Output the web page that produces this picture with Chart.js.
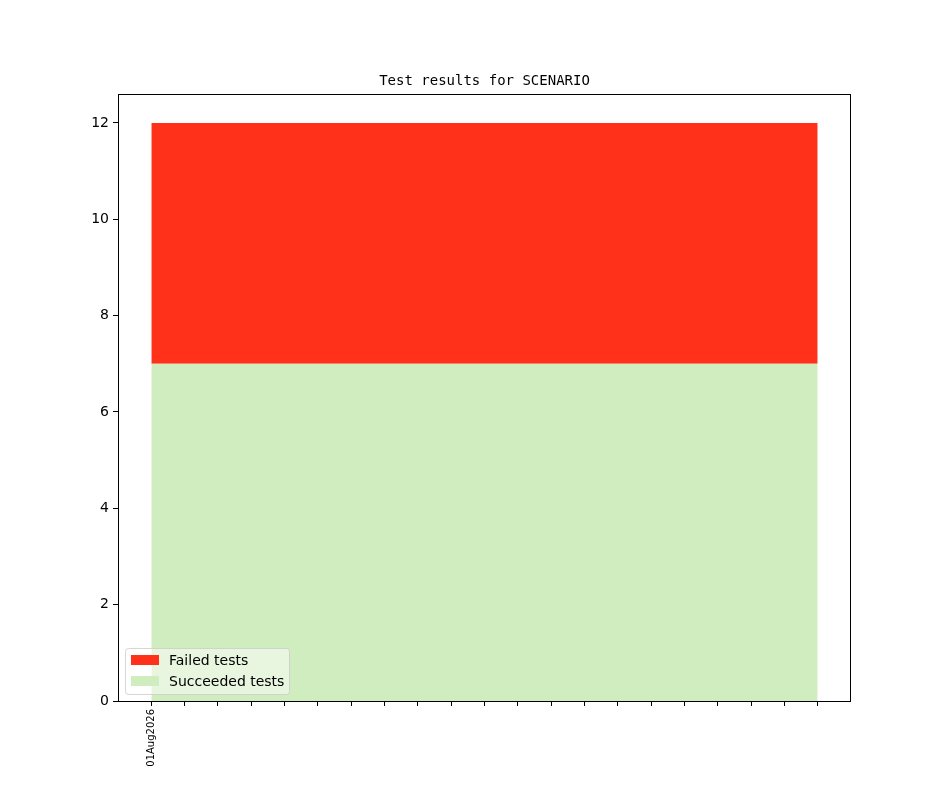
<!DOCTYPE html>
<html lang="en">
<head>
  <meta charset="UTF-8" />
  <title>Test results for SCENARIO</title>
  <script src="https://cdn.jsdelivr.net/npm/chart.js"></script>
  <style>
    body { margin: 0; background: #fff; }
    #wrap { width: 944px; height: 787px; }
  </style>
</head>
<body>
  <div id="wrap"><canvas id="chart"></canvas></div>

  <script>
    // x positions (one per run), only the first one carries a date label
    const runs = [0, 1, 2, 3, 4, 5, 6, 7, 8, 9, 10, 11, 12, 13, 14, 15, 16, 17, 18, 19, 20];
    const tickLabels = { 0: '01Aug2026' };
    const succeeded = [7, 7, 7, 7, 7, 7, 7, 7, 7, 7, 7, 7, 7, 7, 7, 7, 7, 7, 7, 7, 7];
    const failed = [5, 5, 5, 5, 5, 5, 5, 5, 5, 5, 5, 5, 5, 5, 5, 5, 5, 5, 5, 5, 5];
    const yTicks = [0, 2, 4, 6, 8, 10, 12];

    const RED = '#ff311a';
    const GREEN = '#d0edbf';
    const SANS = "'DejaVu Sans', sans-serif";

    // frame, title and in-plot legend like matplotlib
    const decor = {
      id: 'decor',
      afterDraw(chart) {
        const { ctx, chartArea: a } = chart;
        ctx.save();
        ctx.strokeStyle = '#000';
        ctx.lineWidth = 1;
        ctx.strokeRect(a.left + 0.5, a.top + 0.5, a.right - a.left - 1, a.bottom - a.top);

        ctx.fillStyle = '#000';
        ctx.font = "14px 'DejaVu Sans Mono', monospace";
        ctx.textAlign = 'center';
        ctx.textBaseline = 'alphabetic';
        ctx.fillText('Test results for SCENARIO', (a.left + a.right) / 2, a.top - 9);

        // legend box
        const x = a.left + 7, y = a.bottom - 53, w = 164, h = 46;
        ctx.fillStyle = 'rgba(255,255,255,0.5)';
        ctx.strokeStyle = 'rgba(204,204,204,0.8)';
        ctx.beginPath();
        ctx.roundRect(x + 0.5, y + 0.5, w, h, 3);
        ctx.fill();
        ctx.stroke();

        const items = [['Failed tests', RED], ['Succeeded tests', GREEN]];
        ctx.font = '14px ' + SANS;
        ctx.textAlign = 'left';
        items.forEach(([label, col], i) => {
          const cy = y + 12 + i * 21;
          ctx.fillStyle = col;
          ctx.fillRect(x + 6, cy - 5, 28, 10);
          ctx.fillStyle = '#000';
          ctx.textBaseline = 'middle';
          ctx.fillText(label, x + 44, cy + 1);
        });
        ctx.restore();
      }
    };

    new Chart(document.getElementById('chart'), {
      type: 'line',
      data: {
        labels: runs,
        datasets: [
          {
            label: 'Succeeded tests',
            data: runs.map((r, i) => ({ x: r, y: succeeded[i] })),
            backgroundColor: GREEN,
            borderWidth: 0,
            pointRadius: 0,
            fill: 'origin',
            tension: 0
          },
          {
            label: 'Failed tests',
            data: runs.map((r, i) => ({ x: r, y: failed[i] })),
            backgroundColor: RED,
            borderWidth: 0,
            pointRadius: 0,
            fill: '-1',
            tension: 0
          }
        ]
      },
      options: {
        responsive: true,
        maintainAspectRatio: false,
        animation: false,
        layout: { padding: { top: 94, right: 93, left: 0, bottom: 0 } },
        plugins: {
          legend: { display: false },
          title: { display: false },
          tooltip: { enabled: false }
        },
        scales: {
          x: {
            type: 'linear',
            min: -1,
            max: 21,
            afterBuildTicks(scale) {
              scale.ticks = runs.map(v => ({ value: v }));
            },
            afterFit(scale) { scale.height = 86; },
            border: { display: false },
            grid: { drawOnChartArea: false, drawTicks: true, tickLength: 5, color: '#000', tickWidth: 1 },
            ticks: {
              autoSkip: false,
              minRotation: 90,
              maxRotation: 90,
              padding: 3,
              color: '#000',
              font: { family: SANS, size: 10 },
              callback: v => tickLabels[v] || ''
            }
          },
          y: {
            stacked: true,
            min: 0,
            max: 12.6,
            afterBuildTicks(scale) {
              scale.ticks = yTicks.map(v => ({ value: v }));
            },
            afterFit(scale) { scale.width = 118; },
            border: { display: false },
            grid: { drawOnChartArea: false, drawTicks: true, tickLength: 5, color: '#000', tickWidth: 1 },
            ticks: {
              padding: 4,
              color: '#000',
              font: { family: SANS, size: 14 }
            }
          }
        }
      },
      plugins: [decor]
    });
  </script>
</body>
</html>
